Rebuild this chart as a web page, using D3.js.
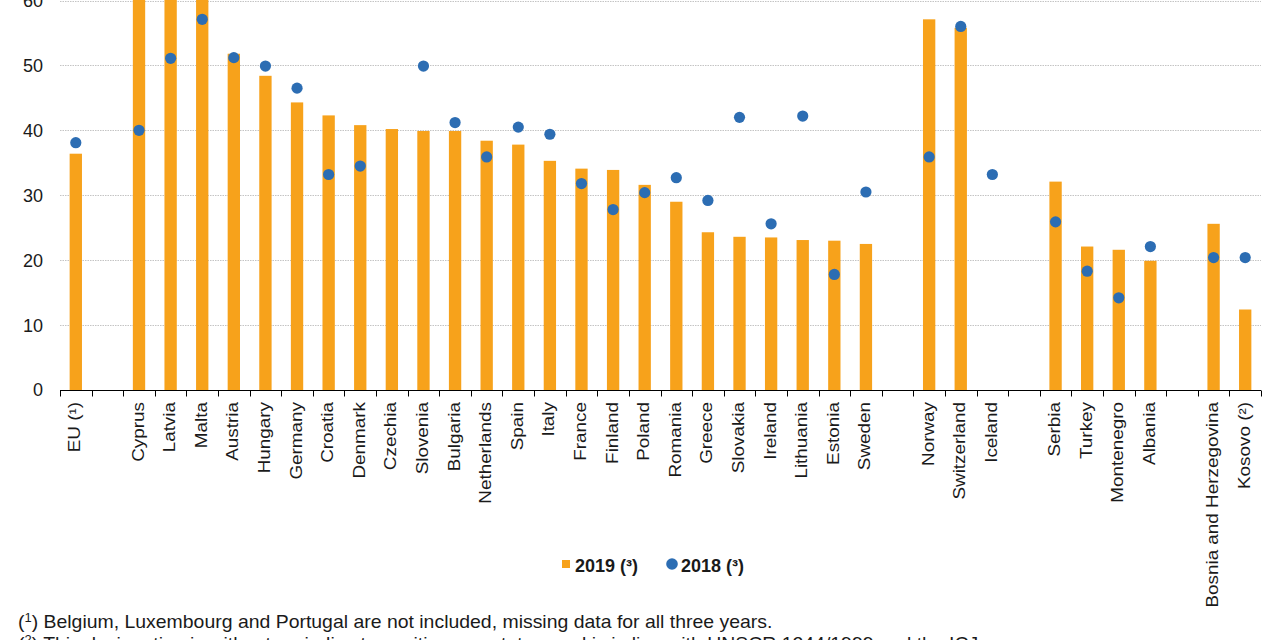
<!DOCTYPE html>
<html>
<head>
<meta charset="utf-8">
<script src="https://cdn.jsdelivr.net/npm/d3@7"></script>
<style>
  body { margin: 0; background: #fff; }
  svg { display: block; font-family: "Liberation Sans", Arial, sans-serif; }
</style>
</head>
<body>
<div id="chart"></div>
<script>
// categories in display order, null = blank slot between country groups
const categories = [
  "EU (¹)", null,
  "Cyprus", "Latvia", "Malta", "Austria", "Hungary", "Germany", "Croatia", "Denmark",
  "Czechia", "Slovenia", "Bulgaria", "Netherlands", "Spain", "Italy", "France", "Finland",
  "Poland", "Romania", "Greece", "Slovakia", "Ireland", "Lithuania", "Estonia", "Sweden", null,
  "Norway", "Switzerland", "Iceland", null,
  "Serbia", "Turkey", "Montenegro", "Albania", null,
  "Bosnia and Herzegovina", "Kosovo (²)"
]

// 2019 bars (null = no data), values above 60 run off the top of the chart
const values2019 = [
  36.4, null,
  66.0, 64.0, 63.0, 51.8, 48.4, 44.3, 42.3, 40.8,
  40.2, 39.9, 39.9, 38.4, 37.8, 35.3, 34.1, 33.9,
  31.6, 29.0, 24.3, 23.6, 23.5, 23.1, 23.0, 22.5, null,
  57.1, 55.8, null, null,
  32.1, 22.1, 21.6, 19.9, null,
  25.6, 12.4
]

// 2018 dots
const values2018 = [
  38.1, null,
  40.0, 51.1, 57.1, 51.2, 49.9, 46.5, 33.2, 34.5,
  null, 49.9, 41.2, 35.9, 40.5, 39.4, 31.8, 27.8,
  30.4, 32.7, 29.2, 42.0, 25.6, 42.2, 17.8, 30.5, null,
  35.9, 56.0, 33.2, null,
  25.9, 18.3, 14.2, 22.1, null,
  20.4, 20.4
]

const yTicks = [0, 10, 20, 30, 40, 50, 60]
const legendLabels = ["2019 (³)", "2018 (³)"]

const barColor = "#f7a21b"
const dotColor = "#2c6db3"

const W = 1280, H = 640
const margin = { top: 0, left: 60, right: 19, bottom: 250 }
const plotW = W - margin.left - margin.right
const plotH = H - margin.top - margin.bottom

const svg = d3.select("#chart").append("svg")
  .attr("width", W).attr("height", H)

const g = svg.append("g").attr("transform", `translate(${margin.left},${margin.top})`)

const idx = categories.map((d, i) => i)

const x = d3.scaleBand().domain(idx).range([0, plotW]).paddingInner(0.61).paddingOuter(0.305)
const slot = d3.scaleBand().domain(idx).range([0, plotW])
const y = d3.scaleLinear().domain([0, 60]).range([plotH, 0.5])

// dotted gridlines
g.append("g")
  .selectAll("line")
  .data(yTicks.filter(d => d > 0)).join("line")
  .attr("x1", 0).attr("x2", plotW)
  .attr("y1", d => Math.round(y(d)) + 0.5).attr("y2", d => Math.round(y(d)) + 0.5)
  .attr("stroke", "#c4c4c4").attr("stroke-width", 1)
  .attr("stroke-dasharray", "1.5,1")

// y labels
g.append("g")
  .selectAll("text")
  .data(yTicks).join("text")
  .attr("x", -17).attr("y", d => y(d))
  .attr("dy", "0.36em")
  .attr("text-anchor", "end")
  .style("font-size", "18px").style("fill", "#1a1a1a")
  .text(d => d)

// bars 2019
g.append("g")
  .selectAll("rect")
  .data(idx.filter(i => values2019[i] != null)).join("rect")
  .attr("x", i => x(i))
  .attr("width", x.bandwidth())
  .attr("y", i => y(values2019[i]))
  .attr("height", i => y(0) - y(values2019[i]))
  .attr("fill", barColor)

// dots 2018
g.append("g")
  .selectAll("circle")
  .data(idx.filter(i => values2018[i] != null)).join("circle")
  .attr("cx", i => x(i) + x.bandwidth() / 2)
  .attr("cy", i => y(values2018[i]))
  .attr("r", 5.6)
  .attr("fill", dotColor)

// x axis line and ticks on slot boundaries
const axisY = Math.round(y(0)) + 0.5
g.append("line")
  .attr("x1", 0).attr("x2", plotW)
  .attr("y1", axisY).attr("y2", axisY)
  .attr("stroke", "#000").attr("stroke-width", 1)

g.append("g")
  .selectAll("line")
  .data(idx.concat([categories.length])).join("line")
  .attr("x1", i => Math.round(i < categories.length ? slot(i) : plotW) + 0.5)
  .attr("x2", i => Math.round(i < categories.length ? slot(i) : plotW) + 0.5)
  .attr("y1", axisY).attr("y2", axisY + 6)
  .attr("stroke", "#000").attr("stroke-width", 1)

// rotated category labels (stretched along their length like the original)
g.append("g")
  .selectAll("text")
  .data(idx.filter(i => categories[i] != null)).join("text")
  .attr("transform", i => `translate(${x(i) + x.bandwidth() / 2 + 4.5},${plotH + 12}) rotate(-90) scale(1.18,1)`)
  .attr("text-anchor", "end")
  .style("font-size", "16px").style("fill", "#1a1a1a")
  .text(i => categories[i])

// legend
const legend = svg.append("g")
legend.append("rect")
  .attr("x", 562).attr("y", 560).attr("width", 8).attr("height", 8)
  .attr("fill", barColor)
legend.append("text")
  .attr("x", 575).attr("y", 572)
  .style("font-size", "18px").style("font-weight", "bold").style("fill", "#1a1a1a")
  .text(legendLabels[0])
legend.append("circle")
  .attr("cx", 672).attr("cy", 564).attr("r", 5.8)
  .attr("fill", dotColor)
legend.append("text")
  .attr("x", 681).attr("y", 572)
  .style("font-size", "18px").style("font-weight", "bold").style("fill", "#1a1a1a")
  .text(legendLabels[1])

// footnotes (second one wraps below the bottom edge in the original)
const notes = [
  ["1", "Belgium, Luxembourg and Portugal are not included, missing data for all three years."],
  ["2", "This designation is without prejudice to positions on status, and is in line with UNSCR 1244/1999 and the ICJ"]
]
const noteG = svg.append("g")
notes.forEach((n, k) => {
  const t = noteG.append("text")
    .attr("transform", `translate(18,${628 + k * 22}) scale(1.08,1)`)
    .style("font-size", "18px").style("fill", "#1a1a1a")
  t.append("tspan").text("(")
  t.append("tspan").attr("dy", -6).style("font-size", "12px").text(n[0])
  t.append("tspan").attr("dy", 6).text(") " + n[1])
})
</script>
</body>
</html>
